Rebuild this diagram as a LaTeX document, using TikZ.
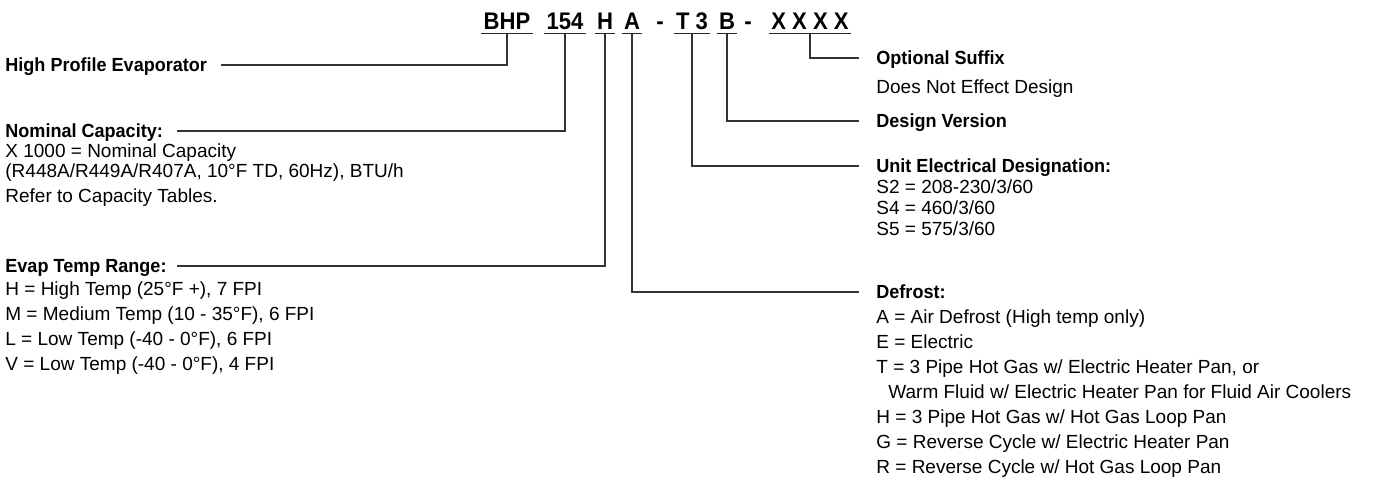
\documentclass[tikz,border=0pt]{standalone}
\usepackage{fontspec}
\setmainfont{Liberation Sans}
\newfontfamily\headfont{Liberation Sans}[FakeStretch=0.95]
\newfontfamily\codefont{Liberation Sans}[FakeStretch=0.92]
\usetikzlibrary{calc}

\begin{document}
\begin{tikzpicture}[x=0.5pt,y=-0.5pt,
  codebox/.style={font=\codefont\bfseries\fontsize{12}{14}\selectfont,anchor=base,inner xsep=1pt,inner ysep=0pt,text height=8.6pt,text depth=1.6pt},
  head/.style={font=\headfont\bfseries\fontsize{9.5}{12}\selectfont,anchor=west,inner sep=0pt,text height=6.8pt,text depth=0pt},
  body/.style={font=\fontsize{9.5}{12}\selectfont,anchor=west,inner sep=0pt,text height=6.8pt,text depth=0pt},
  conn/.style={draw=black!80,line width=0.6pt},
  uline/.style={draw=black!85,line width=0.8pt}]
  \useasboundingbox (0,0) rectangle (1377,487);
  % model code
  \node[codebox] (bhp)  at (507,30) {BHP};
  \node[codebox] (cap)  at (565,30) {154};
  \node[codebox] (rng)  at (605,30) {H};
  \node[codebox] (dfr)  at (632,30) {A};
  \node[codebox] (dsha) at (660,30) {-};
  \node[codebox] (elec) at (692,30) {T 3};
  \node[codebox] (ver)  at (727,30) {B};
  \node[codebox] (dshb) at (748,30) {-};
  \node[codebox] (sfx)  at (810,30) {X X X X};
  \foreach \n in {bhp,cap,rng,dfr,elec,ver,sfx}
    \draw[uline] (\n.south west) -- (\n.south east);
  % left labels
  \node[head] (hpe)  at (5,65)  {High Profile Evaporator};
  \node[head] (nom)  at (5,131) {Nominal Capacity:};
  \node[body] (noma) at (5,151) {X 1000 = Nominal Capacity};
  \node[body] (nomb) at (5,171) {(R448A/R449A/R407A, 10°F TD, 60Hz), BTU/h};
  \node[body] (nomc) at (5,196) {Refer to Capacity Tables.};
  \node[head] (evap) at (5,266) {Evap Temp Range:};
  \foreach \txt [count=\i from 0] in {{H = High Temp (25°F +), 7 FPI},
      {M = Medium Temp (10 - 35°F), 6 FPI},{L = Low Temp (-40 - 0°F), 6 FPI},
      {V = Low Temp (-40 - 0°F), 4 FPI}}
    \node[body] (evap\i) at (5,{289+25*\i}) {\txt};
  % right labels
  \node[head] (opt)  at (876,58)  {Optional Suffix};
  \node[body] (opta) at (876,87)  {Does Not Effect Design};
  \node[head] (dsn)  at (876,121) {Design Version};
  \node[head] (ued)  at (876,166) {Unit Electrical Designation:};
  \foreach \txt [count=\i from 0] in {S2 = 208-230/3/60,S4 = 460/3/60,S5 = 575/3/60}
    \node[body] (ued\i) at (876,{187+21*\i}) {\txt};
  \node[head] (dfh)  at (876,292) {Defrost:};
  \foreach \txt [count=\i from 0] in {{A = Air Defrost (High temp only)},{E = Electric},
      {T = 3 Pipe Hot Gas w/ Electric Heater Pan, or},
      {\hspace*{6pt}Warm Fluid w/ Electric Heater Pan for Fluid Air Coolers},
      {H = 3 Pipe Hot Gas w/ Hot Gas Loop Pan},{G = Reverse Cycle w/ Electric Heater Pan},
      {R = Reverse Cycle w/ Hot Gas Loop Pan}}
    \node[body] (dfh\i) at (876,{317+25*\i}) {\txt};
  % connectors
  \draw[conn] (bhp.south)  |- ([xshift=7pt]hpe.east);
  \draw[conn] (cap.south)  |- ([xshift=7pt]nom.east);
  \draw[conn] (rng.south)  |- ([xshift=5pt]evap.east);
  \draw[conn] (sfx.south)  |- ([xshift=-8.5pt]opt.west);
  \draw[conn] (ver.south)  |- ([xshift=-8.5pt]dsn.west);
  \draw[conn] (elec.south) |- ([xshift=-8.5pt]ued.west);
  \draw[conn] (dfr.south)  |- ([xshift=-8.5pt]dfh.west);
\end{tikzpicture}
\end{document}
